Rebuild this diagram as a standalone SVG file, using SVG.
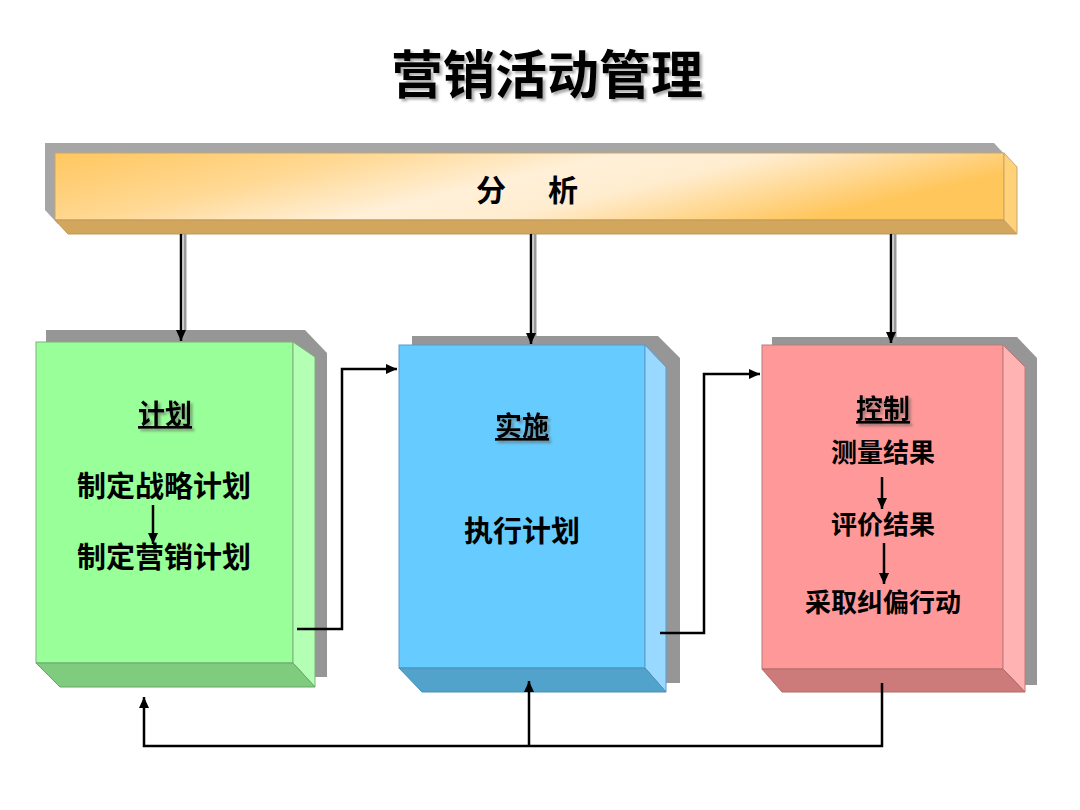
<svg xmlns="http://www.w3.org/2000/svg" width="1080" height="810" viewBox="0 0 1080 810">
<style>
.t{font-family:"Noto Sans CJK SC","Noto Sans",sans-serif;font-weight:700;fill:#000;text-anchor:middle}
.sd{filter:url(#tshadow)}
.edge{fill:none;stroke:#000;stroke-width:2.5}
.gshadow{fill:none;stroke:#9a9a9a;stroke-width:3}
.u{text-decoration:underline}
</style>
<defs>
<filter id="tshadow" x="-10%" y="-20%" width="130%" height="150%">
<feDropShadow dx="2.5" dy="2.5" stdDeviation="1.2" flood-color="#555" flood-opacity="0.5"/>
</filter>
<marker id="ah" markerUnits="userSpaceOnUse" markerWidth="12" markerHeight="10" refX="11" refY="5" orient="auto">
<path d="M0,0 L11,5 L0,10 z" fill="#000"/>
</marker>
<linearGradient id="barg" x1="0" y1="0" x2="1" y2="0.3">
<stop offset="0" stop-color="#ffc75f"/>
<stop offset="0.3" stop-color="#ffd892"/>
<stop offset="0.55" stop-color="#fff0d8"/>
<stop offset="0.7" stop-color="#ffedd0"/>
<stop offset="1" stop-color="#ffc65c"/>
</linearGradient>
</defs>
<rect width="1080" height="810" fill="#fff"/>

<g id="title">
<text class="t sd" x="547" y="94" font-size="52">营销活动管理</text>
</g>

<g id="analysis">
<polygon points="45,143 994,143 1007,157 1007,210 58,224 45,210" fill="#a6a6a6"/>
<rect x="55" y="153" width="949" height="67" fill="url(#barg)" stroke="#c9a56a" stroke-width="1"/>
<polygon points="55,220 1004,220 1017,234 68,234" fill="#d2a65c" stroke="#c09a5a" stroke-width="1"/>
<polygon points="1004,153 1017,167 1017,234 1004,220" fill="#ffd27a" stroke="#c9a56a" stroke-width="1"/>
<text class="t" x="530" y="201" font-size="30" xml:space="preserve" letter-spacing="6">分　析</text>
</g>

<g id="plan">
<polygon points="46,330 305,330 327,353 327,677 60,677 46,663" fill="#969696"/>
<rect x="36" y="342" width="257" height="321" fill="#99ff99" stroke="#7fb07f" stroke-width="1"/>
<polygon points="293,342 315,357 315,687 293,663" fill="#b3ffb3" stroke="#7fb07f" stroke-width="1"/>
<polygon points="36,663 293,663 315,687 60,687" fill="#7fcc7f" stroke="#6aa56a" stroke-width="1"/>
<text class="t u sd" x="165" y="424" font-size="27">计划</text>
<text class="t" x="164" y="497" font-size="29">制定战略计划</text>
<text class="t" x="164" y="568" font-size="29">制定营销计划</text>
<line class="edge" x1="153" y1="505" x2="153" y2="544" marker-end="url(#ah)" stroke-width="1.8"/>
</g>

<g id="implement">
<polygon points="412,336 658,336 680,358 680,683 422,683 412,673" fill="#969696"/>
<rect x="399" y="345" width="246" height="323" fill="#66ccff" stroke="#5a9ccc" stroke-width="1"/>
<polygon points="645,345 666,367 666,692 645,668" fill="#99d9ff" stroke="#5a9ccc" stroke-width="1"/>
<polygon points="399,668 645,668 666,692 422,692" fill="#52a3cc" stroke="#4a8fb5" stroke-width="1"/>
<text class="t u sd" x="522" y="436" font-size="27">实施</text>
<text class="t" x="522" y="542" font-size="29">执行计划</text>
</g>

<g id="control">
<polygon points="772,337 1017,337 1037,358 1037,685 782,685 772,675" fill="#969696"/>
<rect x="762" y="345" width="241" height="324" fill="#ff9999" stroke="#c07a7a" stroke-width="1"/>
<polygon points="1003,345 1025,367 1025,692 1003,669" fill="#ffb3b3" stroke="#c07a7a" stroke-width="1"/>
<polygon points="762,669 1003,669 1025,692 782,692" fill="#cc7a7a" stroke="#b06a6a" stroke-width="1"/>
<text class="t u sd" x="883" y="419" font-size="27">控制</text>
<text class="t" x="883" y="462" font-size="26">测量结果</text>
<text class="t" x="883" y="534" font-size="26">评价结果</text>
<text class="t" x="883" y="612" font-size="26">采取纠偏行动</text>
<line class="edge" x1="882" y1="477" x2="882" y2="509" marker-end="url(#ah)" stroke-width="1.8"/>
<line class="edge" x1="884" y1="543" x2="884" y2="584" marker-end="url(#ah)" stroke-width="1.8"/>
</g>

<g id="connectors">
<line class="gshadow" x1="185" y1="234" x2="185" y2="340"/>
<line class="gshadow" x1="535" y1="234" x2="535" y2="343"/>
<line class="gshadow" x1="895" y1="234" x2="895" y2="342"/>
<line class="edge" x1="181" y1="234" x2="181" y2="341" marker-end="url(#ah)"/>
<line class="edge" x1="531" y1="234" x2="531" y2="344" marker-end="url(#ah)"/>
<line class="edge" x1="891" y1="234" x2="891" y2="343" marker-end="url(#ah)"/>
<polyline class="edge" points="297,629 342,629 342,369 397,369" marker-end="url(#ah)"/>
<polyline class="edge" points="660,633 704,633 704,374 760,374" marker-end="url(#ah)"/>
<polyline class="edge" points="882,683 882,746 144,746 144,697" marker-end="url(#ah)"/>
<line class="edge" x1="529" y1="746" x2="529" y2="681" marker-end="url(#ah)"/>
</g>
</svg>
